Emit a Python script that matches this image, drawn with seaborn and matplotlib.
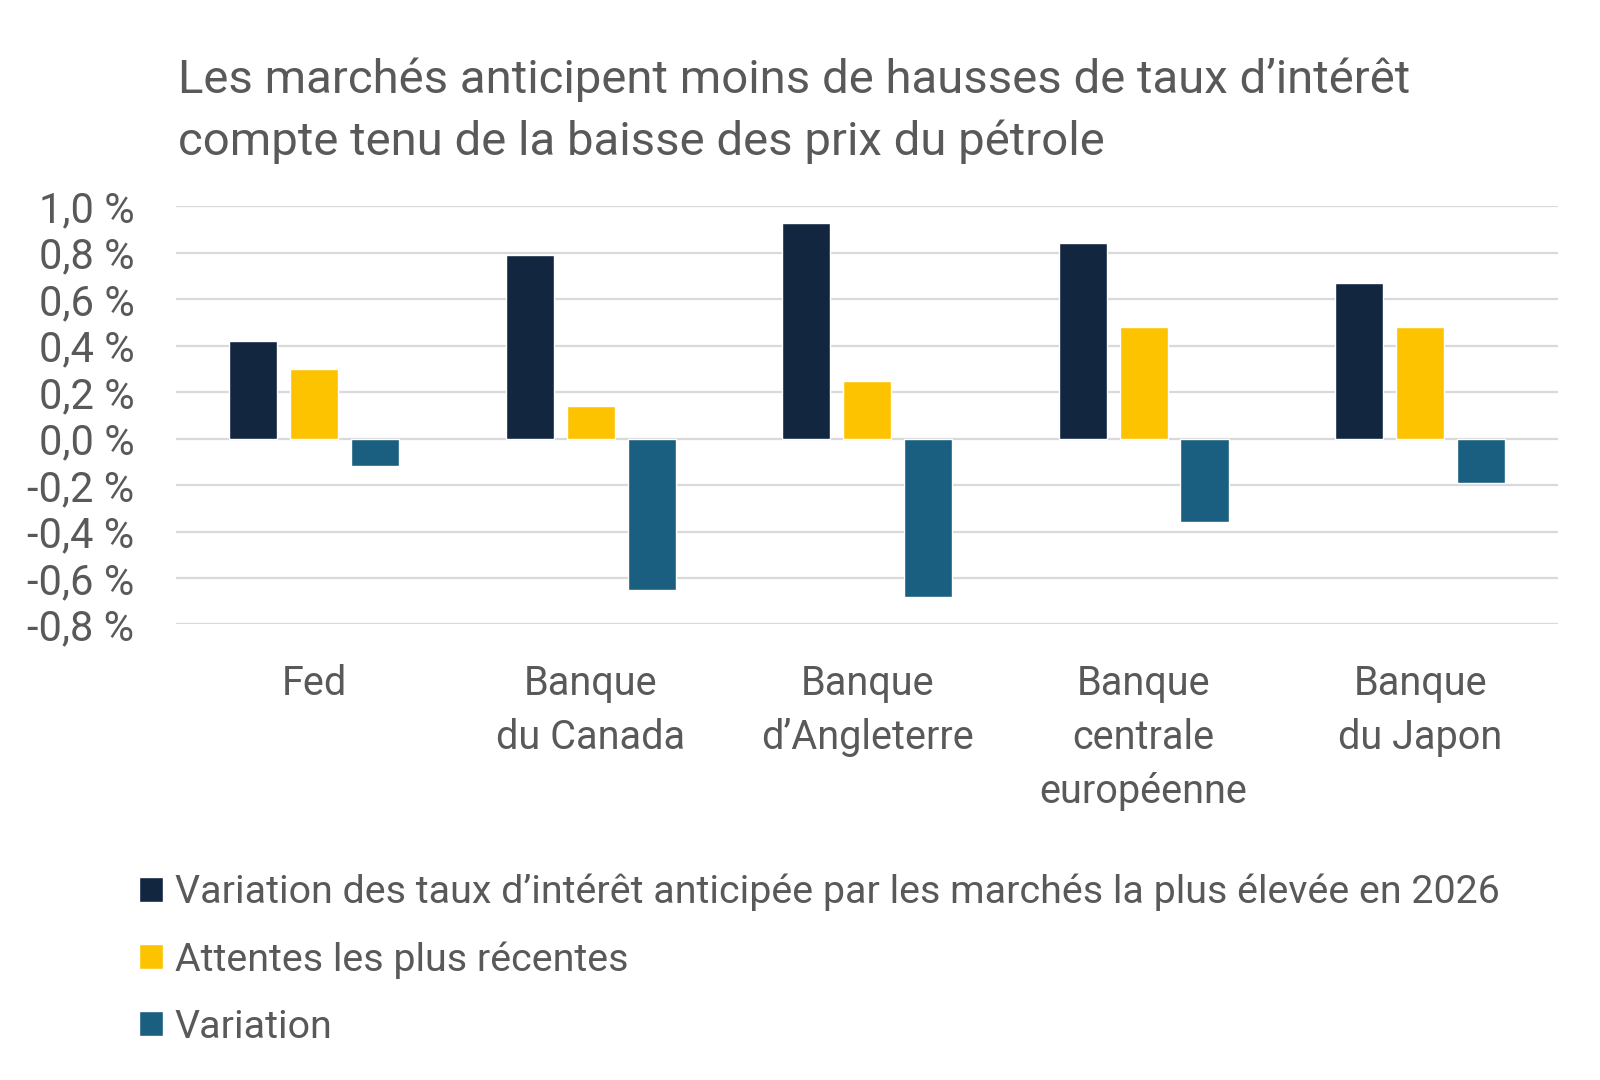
import numpy as np
import pandas as pd
import matplotlib
matplotlib.use('Agg')
import matplotlib.pyplot as plt
import seaborn as sns

banques = ['Fed', 'Banque\ndu Canada', 'Banque\nd\u2019Angleterre',
           'Banque\ncentrale\neuropéenne', 'Banque\ndu Japon']
series = ['Variation des taux d\u2019intérêt anticipée par les marchés la plus élevée en 2026',
          'Attentes les plus récentes',
          'Variation']
plus_elevee = [0.42, 0.79, 0.93, 0.84, 0.67]
recentes = [0.30, 0.14, 0.25, 0.48, 0.48]
variation = [-0.12, -0.65, -0.68, -0.36, -0.19]
yticks = [-0.8, -0.6, -0.4, -0.2, 0.0, 0.2, 0.4, 0.6, 0.8, 1.0]

colors = ['#12263F', '#FDC300', '#1A5E80']
grey = '#595959'
title = ('Les marchés anticipent moins de hausses de taux d\u2019intérêt\n'
         'compte tenu de la baisse des prix du pétrole')

df = pd.DataFrame({
    'banque': banques * 3,
    'serie': np.repeat(series, len(banques)),
    'valeur': plus_elevee + recentes + variation,
})

sns.set_style('white')
plt.rcParams['font.family'] = ['Roboto', 'DejaVu Sans']
plt.rcParams['text.color'] = grey

fig = plt.figure(figsize=(16, 10.8), dpi=100)
ax = fig.add_axes([0.11, 0.4218, 0.864, 0.3872])

sns.barplot(data=df, x='banque', y='valeur', hue='serie', palette=colors,
            width=0.66, gap=0.21, saturation=1, ax=ax)

ax.set_ylim(-0.8, 1.0)
ax.set_xlim(-0.5, 4.5)
ax.set_yticks(yticks)
ax.set_yticklabels([f'{v:.1f}'.replace('.', ',') + ' %' for v in yticks])
ax.yaxis.grid(True, color='#D9D9D9', lw=1.6)
ax.set_axisbelow(True)
for s in ax.spines.values():
    s.set_visible(False)
ax.tick_params(axis='y', length=0, pad=30, labelsize=30, labelcolor=grey)
ax.tick_params(axis='x', length=0, pad=28.5, labelsize=28.5, labelcolor=grey)
for lab in ax.get_xticklabels():
    lab.set_linespacing(1.49)
ax.set(xlabel='', ylabel='')

handles, labels = ax.get_legend_handles_labels()
ax.get_legend().remove()
fig.legend(handles, labels, loc='upper left', bbox_to_anchor=(0.087, 0.191),
           frameon=False, fontsize=28.4, handlelength=0.6, handleheight=0.6,
           handletextpad=0.3, labelspacing=0.76, borderpad=0, borderaxespad=0,
           labelcolor=grey)

fig.text(0.111, 1 - 110.5 / 1080, title, fontsize=34, color=grey,
         va='center', ha='left', linespacing=1.48)

fig.savefig('out.png', dpi=100)
